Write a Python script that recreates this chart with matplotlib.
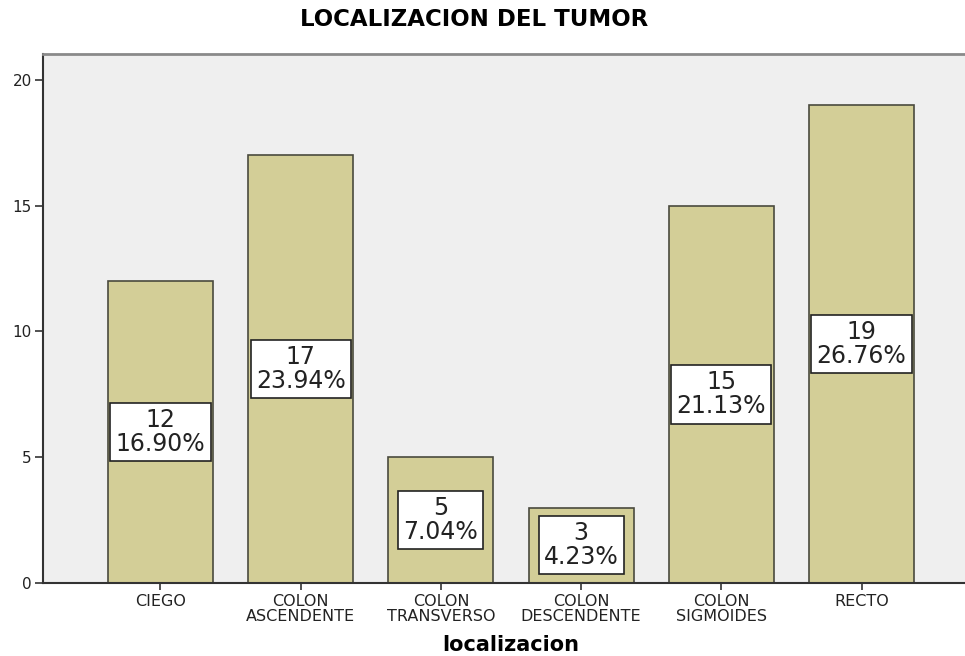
import numpy as np
import matplotlib.pyplot as plt

# data
categories = ["CIEGO", "COLON\nASCENDENTE", "COLON\nTRANSVERSO",
              "COLON\nDESCENDENTE", "COLON\nSIGMOIDES", "RECTO"]
counts = [12, 17, 5, 3, 15, 19]
percents = ["16.90%", "23.94%", "7.04%", "4.23%", "21.13%", "26.76%"]

plt.rcParams["font.family"] = ["DejaVu Sans"]

fig = plt.figure(figsize=(9.65, 6.56), dpi=100)
ax = fig.add_axes([43 / 965, 1 - 583 / 656, 1 - 43 / 965, (583 - 54) / 656])
ax.set_facecolor("#efefef")

x = np.arange(len(categories))
ax.bar(x, counts, width=0.75, color="#d3ce97", edgecolor="#4a4a3e", linewidth=1.2, zorder=2)

for xi, c, p in zip(x, counts, percents):
    ax.text(xi, c / 2, f"{c}\n{p}", ha="center", va="center", fontsize=17,
            color="#222222", linespacing=1.0, zorder=3,
            bbox=dict(boxstyle="square,pad=0.22", facecolor="white",
                      edgecolor="#222222", linewidth=1.2))

ax.set_xlim(-0.838, 5.738)
ax.set_ylim(0, 21.03)
ax.set_yticks([0, 5, 10, 15, 20])
ax.set_xticks(x)
ax.set_xticklabels(categories, fontsize=11.5, linespacing=1.0, color="#222222")
ax.tick_params(axis="y", labelsize=11, length=6, width=1.2, color="#333333", pad=2,
               labelcolor="#222222")
ax.tick_params(axis="x", length=5, width=1.2, color="#333333", pad=3)

ax.spines["right"].set_visible(False)
ax.spines["left"].set_color("#333333")
ax.spines["left"].set_linewidth(1.5)
ax.spines["bottom"].set_color("#333333")
ax.spines["bottom"].set_linewidth(1.5)
ax.spines["top"].set_color("#8a8a8a")
ax.spines["top"].set_linewidth(2)

fig.text(474 / 965, 1 - 20 / 656, "LOCALIZACION DEL TUMOR", ha="center", va="center",
         fontsize=16.5, fontweight="bold")
fig.text(511 / 965, 1 - 645 / 656, "localizacion", ha="center", va="center",
         fontsize=15, fontweight="bold")

fig.savefig("out.png", dpi=100)
